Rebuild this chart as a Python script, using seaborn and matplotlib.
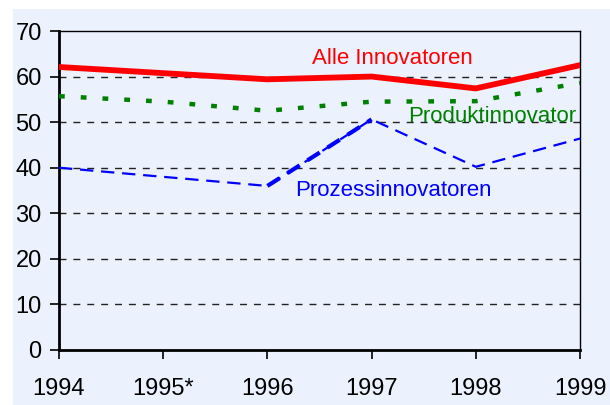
import numpy as np
import pandas as pd
import matplotlib.pyplot as plt
import matplotlib.patches as mpatches
import seaborn as sns

# Werte (1995: nur Produktinnovatoren erhoben)
jahre = ['1994', '1995*', '1996', '1997', '1998', '1999']
alle = [62.1, np.nan, 59.4, 60.0, 57.4, 62.5]
produkt = [55.7, 54.5, 52.5, 54.5, 54.6, 58.6]
prozess = [40.0, np.nan, 36.0, 50.6, 40.2, 46.4]

bg = '#EBF1FD'
sns.set_theme(style='white')
plt.rcParams['font.family'] = ['Liberation Sans Narrow', 'Liberation Sans', 'DejaVu Sans']

x = np.arange(len(jahre))
df = pd.DataFrame({'x': x, 'alle': alle, 'produkt': produkt, 'prozess': prozess})

fig = plt.figure(figsize=(6.1, 4.05), dpi=100)
fig.patch.set_facecolor('white')
fig.patches.append(mpatches.Rectangle((13 / 610, 0), 1, 1 - 9 / 405, transform=fig.transFigure,
                                      facecolor=bg, edgecolor='none', zorder=-10))
ax = fig.add_axes([59 / 610, 55 / 405, 521 / 610, 319 / 405])
ax.set_facecolor(bg)

# Gitterlinien
for v in range(10, 70, 10):
    ax.axhline(v, color='#222222', lw=1, ls=(0, (5, 5)), zorder=1)

d = df.dropna(subset=['alle'])
sns.lineplot(x=d['x'], y=d['alle'], color='#FF0000', lw=4.2, ax=ax, zorder=5)
d = df.dropna(subset=['produkt'])
sns.lineplot(x=d['x'], y=d['produkt'], color='#008000', lw=3.2, ax=ax, zorder=4).lines[-1].set_dashes((1.3, 3.6))
d = df.dropna(subset=['prozess'])
sns.lineplot(x=d['x'], y=d['prozess'], color='#0000FF', lw=1.6, ax=ax, zorder=3).lines[-1].set_dashes((6, 3.5))
# Abschnitt 1996-1997 ist im Original dicker
seg = df[df['x'].between(2, 3)]
sns.lineplot(x=seg['x'], y=seg['prozess'], color='#0000FF', lw=3.0, ax=ax, zorder=3).lines[-1].set_dashes((3.5, 2.2))

ax.text(3.2, 64.0, 'Alle Innovatoren', color='#FF0000', fontsize=16, ha='center', va='center')
ax.text(4.16, 51.3, 'Produktinnovator', color='#008000', fontsize=16, ha='center', va='center')
ax.text(3.21, 35.1, 'Prozessinnovatoren', color='#0000FF', fontsize=16, ha='center', va='center')

ax.set_xlim(0, 5)
ax.set_ylim(0, 70)
ax.set_xticks(x)
ax.set_xticklabels(jahre)
ax.set_yticks(range(0, 80, 10))
ax.set_xlabel('')
ax.set_ylabel('')
ax.tick_params(axis='both', labelsize=17, colors='black', direction='out', length=6.5, width=1.2, left=True, bottom=True)
ax.tick_params(axis='x', pad=14)
ax.tick_params(axis='y', pad=6)
for s in ['top', 'right']:
    ax.spines[s].set_color('black')
    ax.spines[s].set_linewidth(1.0)
for s in ['left', 'bottom']:
    ax.spines[s].set_color('black')
    ax.spines[s].set_linewidth(2.0)

fig.savefig('out.png', dpi=100, facecolor=fig.get_facecolor())
